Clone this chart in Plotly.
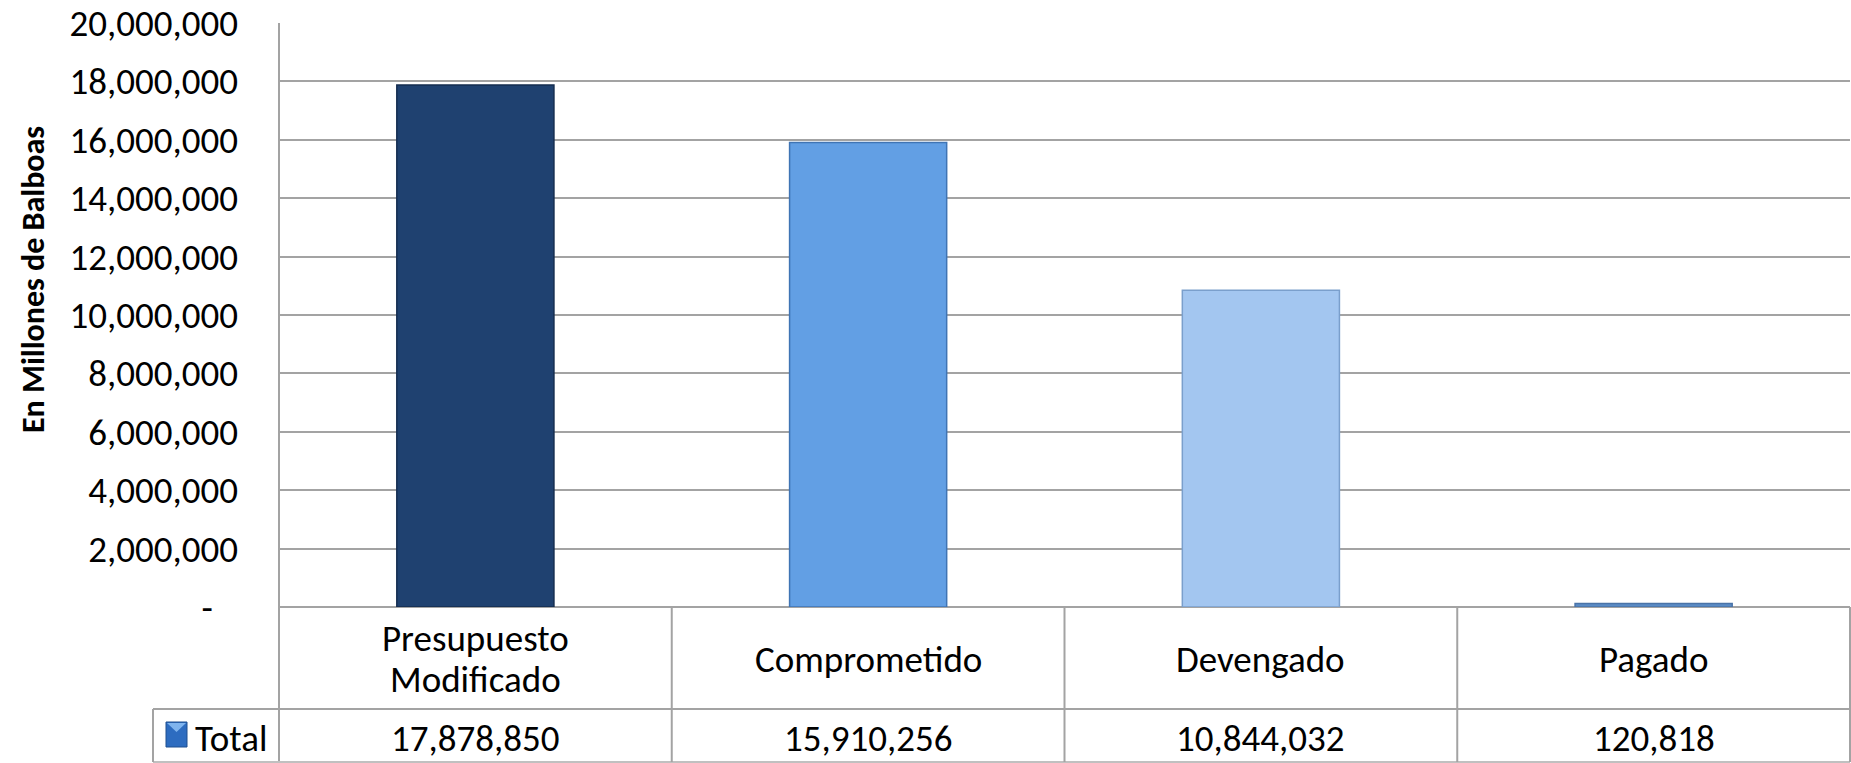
import plotly.graph_objects as go

# ---- data ----
categories = ["Presupuesto<br>Modificado", "Comprometido", "Devengado", "Pagado"]
values = [17878850, 15910256, 10844032, 120818]
series_name = "Total"
bar_colors = ["#1f4170", "#629fe4", "#a3c6f0", "#5b8cc6"]
bar_edges = ["#142c4f", "#3f74b4", "#7a9fcc", "#4a73a8"]
y_tickvals = [0, 2000000, 4000000, 6000000, 8000000, 10000000,
              12000000, 14000000, 16000000, 18000000, 20000000]
y_ticktext = ["-\u00a0\u00a0\u00a0", "2,000,000", "4,000,000", "6,000,000", "8,000,000",
              "10,000,000", "12,000,000", "14,000,000", "16,000,000",
              "18,000,000", "20,000,000"]
y_title = "En Millones de Balboas"

W, H = 1851, 763
FONT = "Carlito, Lato, 'Open Sans', sans-serif"
FS = 37
GRID = "#a3a3a3"


def px(x):
    return x / W


def py(y):
    return 1 - y / H


x_left, x_right = 279, 1850
y_top, y_zero = 23, 607
y_row, y_bot = 709, 762
legend_left = 153

fig = go.Figure()
fig.add_trace(go.Bar(
    x=list(range(len(categories))), y=values, name=series_name,
    marker=dict(color=bar_colors, line=dict(color=bar_edges, width=1.5)),
    width=0.40, showlegend=False, hoverinfo="skip",
))

shapes = []


def line(x0, y0, x1, y1, color=GRID, w=2):
    shapes.append(dict(type="line", xref="paper", yref="paper",
                       x0=px(x0), y0=py(y0), x1=px(x1), y1=py(y1),
                       line=dict(color=color, width=w), layer="above"))


# left border of plot + table
line(x_left, y_top, x_left, y_bot)
# table horizontal lines
line(legend_left, y_row, x_right, y_row)
line(legend_left, y_bot, x_right, y_bot, color="#c0c0c0")
# legend cell left border
line(legend_left, y_row, legend_left, y_bot)
# column dividers
ncat = len(categories)
colw = (x_right - x_left) / ncat
for i in range(1, ncat + 1):
    xx = x_left + colw * i
    line(xx, y_zero, xx, y_bot)

# legend icon
shapes.append(dict(type="rect", xref="paper", yref="paper",
                   x0=px(166), x1=px(187), y0=py(747), y1=py(722),
                   fillcolor="#2d6cc0", line=dict(color="#1f4f8f", width=1)))
shapes.append(dict(type="path", xref="paper", yref="paper",
                   path=f"M {px(167)} {py(723)} L {px(186)} {py(723)} L {px(176.5)} {py(732)} Z",
                   fillcolor="#7fb4ee", line=dict(width=0)))

annotations = []
txtfont = dict(family=FONT, size=FS, color="#000000")
# category labels and values in table
for i, (c, v) in enumerate(zip(categories, values)):
    parts = c.split("<br>")
    n = len(parts)
    for k, part in enumerate(parts):
        yy = 659 + (k - (n - 1) / 2) * 41
        annotations.append(dict(x=i, xref="x", y=py(yy), yref="paper",
                                text=part, showarrow=False, xanchor="center", yanchor="middle",
                                font=txtfont))
    annotations.append(dict(x=i, xref="x", y=py(738), yref="paper",
                            text=f"{v:,}", showarrow=False, xanchor="center", yanchor="middle",
                            font=txtfont))
annotations.append(dict(x=px(193), xref="paper", y=py(738), yref="paper",
                        text=series_name, showarrow=False, xanchor="left", yanchor="middle",
                        font=txtfont))
annotations.append(dict(x=px(33), xref="paper", y=py(280), yref="paper",
                        text=f"<b>{y_title}</b>", showarrow=False, textangle=-90,
                        xanchor="center", yanchor="middle",
                        font=dict(family=FONT, size=32, color="#000000")))

fig.update_layout(
    width=W, height=H,
    margin=dict(l=0, r=0, t=0, b=0, autoexpand=False),
    paper_bgcolor="white", plot_bgcolor="white",
    xaxis=dict(domain=[px(x_left), px(x_right)], range=[-0.5, ncat - 0.5],
               showticklabels=False, showgrid=False, zeroline=False, showline=False,
               automargin=False),
    yaxis=dict(domain=[py(y_zero), py(y_top)], range=[0, 20000000],
               tickvals=y_tickvals, ticktext=y_ticktext,
               showgrid=True, gridcolor=GRID, gridwidth=2,
               zeroline=True, zerolinecolor=GRID, zerolinewidth=2,
               showline=False, ticks="", ticklabelstandoff=40, automargin=False,
               tickfont=txtfont),
    shapes=shapes, annotations=annotations,
    bargap=0.6,
)

fig.write_html("out.html", config={"displayModeBar": False},
               post_script="document.body.style.margin='0';")
